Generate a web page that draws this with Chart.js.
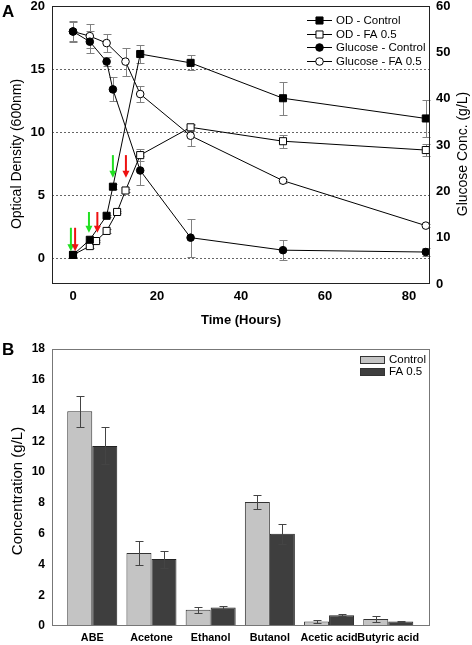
<!DOCTYPE html>
<html>
<head>
<meta charset="utf-8">
<title>OD, glucose and solvent production</title>
<script src="https://cdn.jsdelivr.net/npm/chart.js@4.4.1/dist/chart.umd.min.js"></script>
<style>
    body { margin: 0; background: #fff; }
    #wrap { position: relative; width: 472px; height: 645px; font-family: Arial, "Liberation Sans", sans-serif; }
    canvas { position: absolute; left: 0; }
    .letter { position: absolute; left: 2px; font-size: 17px; font-weight: bold; line-height: 17px; }
</style>
</head>
<body>
<div id="wrap">
    <canvas id="chartA" style="top:0" width="472" height="330"></canvas>
    <canvas id="chartB" style="top:330px" width="472" height="315"></canvas>
    <div class="letter" style="top:3px">A</div>
    <div class="letter" style="top:341px">B</div>
</div>
<script>
var fontFamily = 'Arial, "Liberation Sans", sans-serif';

// panel A - time course
var odCtrlTime = [0, 4, 8, 9.5, 16, 28, 50, 84];
var odCtrl = [0.3, 1.5, 3.4, 5.7, 16.2, 15.5, 12.7, 11.1];
var odCtrlErr = [0.15, 0.1, 0.1, 0.2, 0.75, 0.6, 1.3, 1.5];

var odFaTime = [0, 4, 5.5, 8, 10.5, 12.5, 16, 28, 50, 84];
var odFa = [0.3, 1.0, 1.4, 2.2, 3.7, 5.4, 8.2, 10.4, 9.3, 8.6];
var odFaErr = [0.15, 0.15, 0.1, 0.15, 0.1, 0.1, 0.5, 0.3, 0.5, 0.5];

var gluCtrlTime = [0, 4, 8, 9.5, 16, 28, 50, 84];
var gluCtrl = [54.5, 52.3, 48, 42, 24.5, 10, 7.3, 6.9];
var gluCtrlErr = [2.3, 2.4, 1, 2.6, 3.1, 4.1, 2.1, 0.9];

var gluFaTime = [0, 4, 8, 12.5, 16, 28, 50, 84];
var gluFa = [54.5, 53.5, 52, 48, 41, 32, 22.3, 12.6];
var gluFaErr = [2, 2.6, 2, 3, 1.7, 2.3, 0.4, 0.4];

var timeTicks = [0, 20, 40, 60, 80];
var odTicks = [0, 5, 10, 15, 20];

// green / red arrows (time, OD from top to tip)
var greenArrowTime = [-0.5, 3.8, 9.5];
var redArrowTime = [0.5, 5.8, 12.6];
var arrowTop = [2.45, 3.7, 8.2];
var arrowTip = [0.6, 2.05, 6.4];

// panel B - end products
var products = ["ABE", "Acetone", "Ethanol", "Butanol", "Acetic acid", "Butyric acid"];
var prodCtrl = [13.95, 4.75, 1.05, 8.05, 0.3, 0.45];
var prodCtrlErr = [1.0, 0.8, 0.2, 0.45, 0.1, 0.17];
var prodFa = [11.7, 4.35, 1.2, 6.0, 0.7, 0.3];
var prodFaErr = [1.2, 0.55, 0.08, 0.65, 0.05, 0.02];

function toPoints(xs, ys) {
    return xs.map(function (x, i) { return { x: x, y: ys[i] }; });
}

//- error bars, drawn with the dataset's own y scale
function drawErrors(chart, color) {
    var ctx = chart.ctx;
    ctx.save();
    ctx.strokeStyle = color;
    ctx.lineWidth = 1;
    chart.data.datasets.forEach(function (ds, i) {
        if (!ds.errors) return;
        var meta = chart.getDatasetMeta(i);
        var yScale = chart.scales[meta.yAxisID];
        meta.data.forEach(function (el, j) {
            var e = ds.errors[j];
            if (!e) return;
            var v = ds.data[j].y;
            var x = Math.round(el.x) + 0.5;
            var y1 = Math.round(yScale.getPixelForValue(v + e)) + 0.5;
            var y2 = Math.round(yScale.getPixelForValue(v - e)) + 0.5;
            ctx.beginPath();
            ctx.moveTo(x, y1); ctx.lineTo(x, y2);
            ctx.moveTo(x - 4, y1); ctx.lineTo(x + 4, y1);
            ctx.moveTo(x - 4, y2); ctx.lineTo(x + 4, y2);
            ctx.stroke();
        });
    });
    ctx.restore();
}

function drawFrame(chart, color) {
    var a = chart.chartArea;
    var ctx = chart.ctx;
    ctx.save();
    ctx.strokeStyle = color;
    ctx.lineWidth = 1;
    ctx.strokeRect(Math.round(a.left) + 0.5, Math.round(a.top) + 0.5, Math.round(a.right - a.left) - 1, Math.round(a.bottom - a.top) - 1);
    ctx.restore();
}

// vertical axis title, read from bottom to top
function drawVTitle(ctx, text, x, y, size) {
    ctx.save();
    ctx.translate(x, y);
    ctx.rotate(-Math.PI / 2);
    ctx.font = size + "px " + fontFamily;
    ctx.fillStyle = "#000";
    ctx.textAlign = "center";
    ctx.textBaseline = "middle";
    ctx.fillText(text, 0, 0);
    ctx.restore();
}

var linePlugin = {
    id: "linePlugin",
    beforeDatasetsDraw: function (chart) {
        drawErrors(chart, "#808080");
    },
    afterDatasetsDraw: function (chart) {
        var ctx = chart.ctx;
        var xs = chart.scales.x, ys = chart.scales.y;
        drawFrame(chart, "#222");

        // arrows
        function arrow(t, i, color) {
            var x = xs.getPixelForValue(t);
            var top = ys.getPixelForValue(arrowTop[i]);
            var tip = ys.getPixelForValue(arrowTip[i]);
            ctx.strokeStyle = color;
            ctx.fillStyle = color;
            ctx.lineWidth = 2;
            ctx.beginPath();
            ctx.moveTo(x, top); ctx.lineTo(x, tip - 6);
            ctx.stroke();
            ctx.beginPath();
            ctx.moveTo(x - 3.5, tip - 7); ctx.lineTo(x + 3.5, tip - 7); ctx.lineTo(x, tip);
            ctx.closePath();
            ctx.fill();
        }
        ctx.save();
        greenArrowTime.forEach(function (t, i) { arrow(t, i, "#22e022"); });
        redArrowTime.forEach(function (t, i) { arrow(t, i, "#ee1111"); });
        ctx.restore();

        // legend
        var a = chart.chartArea;
        var x0 = a.right - 123, y0 = a.top + 14;
        ctx.save();
        ctx.font = "11.5px " + fontFamily;
        ctx.textBaseline = "middle";
        chart.data.datasets.forEach(function (ds, i) {
            var y = Math.round(y0 + i * 13.7) + 0.5;
            ctx.strokeStyle = "#000";
            ctx.lineWidth = 1;
            ctx.beginPath();
            ctx.moveTo(x0, y); ctx.lineTo(x0 + 25, y);
            ctx.stroke();
            ctx.fillStyle = ds.pointBackgroundColor;
            Chart.helpers.drawPoint(ctx, { pointStyle: ds.pointStyle, radius: ds.pointRadius, borderWidth: 1, rotation: 0 }, x0 + 12.5, y);
            ctx.fillStyle = "#000";
            ctx.fillText(ds.label, x0 + 29, y);
        });
        ctx.restore();
    },
    afterDraw: function (chart) {
        drawVTitle(chart.ctx, "Optical Density (600nm)", 17.5, 154, 14);
        drawVTitle(chart.ctx, "Glucose Conc. (g/L)", 463, 154, 14);
    },
};

var barPlugin = {
    id: "barPlugin",
    afterDatasetsDraw: function (chart) {
        drawErrors(chart, "#444");
        drawFrame(chart, "#777");
        var ctx = chart.ctx;
        var a = chart.chartArea;
        var x0 = a.right - 70, y0 = a.top + 10.5;
        ctx.save();
        ctx.font = "11.5px " + fontFamily;
        ctx.textBaseline = "middle";
        chart.data.datasets.forEach(function (ds, i) {
            var y = Math.round(y0 + i * 12.5);
            ctx.fillStyle = ds.backgroundColor;
            ctx.fillRect(x0, y - 4, 25, 8);
            ctx.strokeStyle = "#333";
            ctx.strokeRect(x0 + 0.5, y - 3.5, 24, 7);
            ctx.fillStyle = "#000";
            ctx.fillText(ds.label, x0 + 29, y);
        });
        ctx.restore();
    },
    afterDraw: function (chart) {
        drawVTitle(chart.ctx, "Concentration (g/L)", 18, 161, 15);
    },
};

//-------------
//- LINE CHART -
//-------------
var lineDatasets = [
    { label: "OD - Control", data: toPoints(odCtrlTime, odCtrl), errors: odCtrlErr, yAxisID: "y",
      pointStyle: "rect", pointRadius: 5, pointBackgroundColor: "#000" },
    { label: "OD - FA 0.5", data: toPoints(odFaTime, odFa), errors: odFaErr, yAxisID: "y",
      pointStyle: "rect", pointRadius: 5, pointBackgroundColor: "#fff" },
    { label: "Glucose - Control", data: toPoints(gluCtrlTime, gluCtrl), errors: gluCtrlErr, yAxisID: "y1",
      pointStyle: "circle", pointRadius: 3.8, pointBackgroundColor: "#000" },
    { label: "Glucose - FA 0.5", data: toPoints(gluFaTime, gluFa), errors: gluFaErr, yAxisID: "y1",
      pointStyle: "circle", pointRadius: 3.8, pointBackgroundColor: "#fff" },
];
lineDatasets.forEach(function (ds) {
    ds.borderColor = "#000";
    ds.borderWidth = 1;
    ds.pointBorderColor = "#000";
    ds.pointBorderWidth = 1;
    ds.tension = 0;
    ds.fill = false;
});

var tickFontA = { family: fontFamily, size: 13, weight: "bold" };

new Chart(document.getElementById("chartA"), {
    type: "line",
    data: { datasets: lineDatasets },
    options: {
        responsive: false,
        animation: false,
        layout: { padding: { top: 6, left: 0, right: 0, bottom: 0 } },
        plugins: { legend: { display: false }, tooltip: { enabled: false } },
        scales: {
            x: {
                type: "linear",
                min: -5,
                max: 85,
                afterBuildTicks: function (s) { s.ticks = timeTicks.map(function (v) { return { value: v }; }); },
                afterFit: function (s) { s.height = 46; s.paddingLeft = 0; s.paddingRight = 0; },
                grid: { display: false, drawTicks: false },
                border: { display: false },
                ticks: { color: "#000", font: tickFontA, padding: 5 },
                title: { display: true, text: "Time (Hours)", color: "#000",
                         font: { family: fontFamily, size: 13, weight: "bold" }, padding: { top: 0, bottom: 2 } },
            },
            y: {
                position: "left",
                min: -2,
                max: 20,
                afterBuildTicks: function (s) { s.ticks = odTicks.map(function (v) { return { value: v }; }); },
                afterFit: function (s) { s.width = 52; s.paddingTop = 0; s.paddingBottom = 0; },
                grid: { color: "#666", lineWidth: 1, drawTicks: false },
                border: { display: false, dash: [2, 2] },
                ticks: { color: "#000", font: tickFontA, padding: 7 },
            },
            y1: {
                position: "right",
                min: 0,
                max: 60,
                afterFit: function (s) { s.width = 42; s.paddingTop = 0; s.paddingBottom = 0; },
                grid: { display: false, drawTicks: false },
                border: { display: false },
                ticks: { color: "#000", font: tickFontA, padding: 6, stepSize: 10 },
            },
        },
    },
    plugins: [linePlugin],
});

//-------------
//- BAR CHART -
//-------------
new Chart(document.getElementById("chartB"), {
    type: "bar",
    data: {
        datasets: [
            { label: "Control", data: toPoints(products.map(function (p, i) { return i; }), prodCtrl), errors: prodCtrlErr,
              backgroundColor: "#c4c4c4", borderColor: "#333", borderWidth: 1, categoryPercentage: 0.845, barPercentage: 1 },
            { label: "FA 0.5", data: toPoints(products.map(function (p, i) { return i; }), prodFa), errors: prodFaErr,
              backgroundColor: "#3e3e3e", borderColor: "#222", borderWidth: 1, categoryPercentage: 0.845, barPercentage: 1 },
        ],
    },
    options: {
        responsive: false,
        animation: false,
        layout: { padding: { top: 19, left: 0, right: 42, bottom: 0 } },
        plugins: { legend: { display: false }, tooltip: { enabled: false } },
        scales: {
            x: {
                type: "linear",
                offset: false,
                min: -0.68,
                max: 5.705,
                afterBuildTicks: function (s) { s.ticks = products.map(function (p, i) { return { value: i }; }); },
                afterFit: function (s) { s.height = 19; s.paddingLeft = 0; s.paddingRight = 0; },
                grid: { display: false, drawTicks: false, offset: false },
                border: { display: false },
                ticks: {
                    color: "#000",
                    font: { family: fontFamily, size: 10.8, weight: "bold" },
                    padding: 6,
                    maxRotation: 0,
                    autoSkip: false,
                    callback: function (v) { return products[v]; },
                },
            },
            y: {
                min: 0,
                max: 18,
                afterFit: function (s) { s.width = 52; s.paddingTop = 0; s.paddingBottom = 0; },
                grid: { display: false, drawTicks: false },
                border: { display: false },
                ticks: { color: "#000", font: { family: fontFamily, size: 12, weight: "bold" }, padding: 7, stepSize: 2 },
            },
        },
    },
    plugins: [barPlugin],
});
</script>
</body>
</html>
